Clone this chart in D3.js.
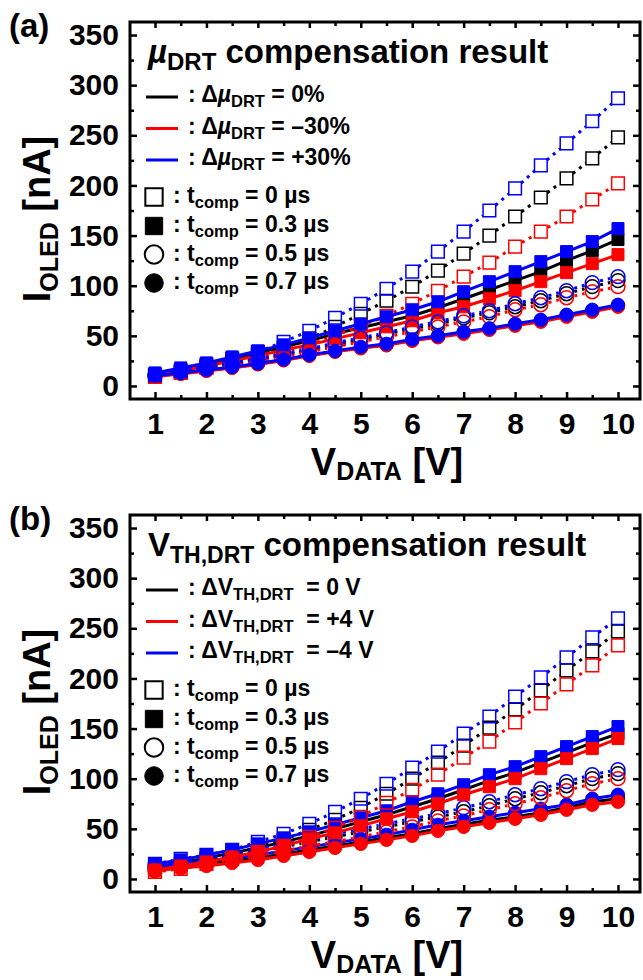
<!DOCTYPE html>
<html>
<head>
<meta charset="utf-8">
<script src="https://cdn.jsdelivr.net/npm/d3@7"></script>
<style>
  body { margin: 0; background: #fff; }
  svg { display: block; font-family: "Liberation Sans", Arial, sans-serif; font-weight: bold; }
  text { white-space: pre; }
</style>
</head>
<body>
<svg width="643" height="980"></svg>
<script>
// V_DATA sweep, one point each 0.5 V
const vData = [1, 1.5, 2, 2.5, 3, 3.5, 4, 4.5, 5, 5.5, 6, 6.5, 7, 7.5, 8, 8.5, 9, 9.5, 10]
const xTicks = [1, 2, 3, 4, 5, 6, 7, 8, 9, 10]
const xMinor = [1.5, 2.5, 3.5, 4.5, 5.5, 6.5, 7.5, 8.5, 9.5]
const yTicks = [0, 50, 100, 150, 200, 250, 300, 350]
const yMinor = [25, 75, 125, 175, 225, 275, 325]

// (a) mobility variation, I_OLED in nA
const muZeroT0   = [10, 14, 19, 25, 31, 38, 47, 59, 72, 85, 99, 115, 132, 150, 169, 188, 207, 227, 248]
const muMinusT0  = [9, 13, 18, 23, 28, 34, 41, 50, 60, 70, 82, 95, 109, 123, 139, 154, 169, 186, 202]
const muPlusT0   = [11, 15, 21, 27, 34, 44, 55, 68, 82, 97, 114, 134, 154, 175, 197, 220, 242, 264, 287]
const muZeroT03  = [12, 17, 22, 27, 33, 39, 45, 52, 58, 64, 70, 78, 87, 96, 105, 114, 125, 135, 146]
const muMinusT03 = [11, 15, 20, 25, 30, 36, 41, 47, 53, 59, 65, 73, 79, 87, 95, 104, 113, 122, 131]
const muPlusT03  = [13, 18, 23, 29, 35, 41, 48, 55, 62, 69, 76, 84, 94, 104, 114, 124, 134, 144, 157]
const muZeroT05  = [10.5, 14, 18, 22, 26, 31, 36, 41, 46, 52, 57, 62, 68, 73, 79, 85, 92, 99, 105]
const muMinusT05 = [10, 13, 17, 21, 25, 29, 34, 39, 44, 49, 54, 59, 64, 69, 76, 81, 88, 94, 99]
const muPlusT05  = [11, 14, 18.5, 23, 27, 32, 37, 43, 48, 53, 59, 64, 70, 75, 82, 88, 95, 103, 109]
const muZeroT07  = [10, 12.5, 15.5, 18.5, 22, 26, 30.5, 34.5, 38, 41, 45.5, 49, 53, 56.5, 61, 65, 70, 75, 80]
const muMinusT07 = [9.5, 12, 15, 18, 21.5, 25.5, 30, 34, 37.5, 40.5, 45, 48.5, 52, 56, 60, 64, 69, 74, 79]
const muPlusT07  = [10.5, 13, 16, 19, 22.5, 26.5, 31, 35, 39, 42, 46.5, 50, 54, 57.5, 62, 66, 71, 76, 81]

// (b) threshold voltage variation, I_OLED in nA
const vthZeroT0   = [11, 15, 20, 24, 32, 39, 49, 59, 71, 85, 100, 116, 133, 151, 169, 188, 208, 227, 247]
const vthPlusT0   = [7, 10, 15, 20, 27, 33, 42, 51, 62, 76, 89, 104, 121, 137, 156, 175, 194, 213, 233]
const vthMinusT0  = [15, 20, 24, 29, 37, 45, 55, 67, 80, 95, 111, 127, 145, 162, 182, 201, 221, 241, 260]
const vthZeroT03  = [12, 16, 21, 26, 31, 37, 43, 50, 57, 64, 72, 80, 89, 98, 106, 116, 126, 136, 145]
const vthPlusT03  = [9, 13, 17, 22, 27, 33, 40, 46, 53, 60, 67, 75, 84, 92, 100, 110, 120, 130, 140]
const vthMinusT03 = [15, 19, 24, 29, 35, 41, 47, 54, 61, 68, 77, 85, 94, 104, 112, 122, 132, 142, 152]
const vthZeroT05  = [11, 14, 18, 22, 27, 32, 37, 42, 47, 52, 57, 62, 67, 73, 80, 86, 93, 100, 105]
const vthPlusT05  = [8, 11, 14, 18, 23, 28, 33, 37, 42, 47, 52, 58, 63, 69, 75, 81, 88, 95, 100]
const vthMinusT05 = [14, 17, 21, 25, 30, 35, 40, 45, 50, 55, 60, 65, 71, 77, 84, 90, 97, 104, 109]
const vthZeroT07  = [10, 12, 15, 18, 21, 25, 29, 33, 37, 41, 45, 50, 54.5, 58.5, 62, 66, 71, 77, 80]
const vthPlusT07  = [8, 11, 13, 16, 19, 23, 27, 31, 35, 39, 43, 48, 52, 56, 60, 64, 69, 74, 77]
const vthMinusT07 = [13, 15, 18, 21, 24, 28, 32, 36, 40, 44, 49, 54, 58, 62, 66, 70, 74, 80, 84]

const colors = { black: '#000000', red: '#ff0000', blue: '#0000ff' }
// t_comp styles: marker shape, filled or open, dotted or solid line
const tStyles = [
  { shape: d3.symbolSquare, filled: false, dotted: true,  label: '0' },
  { shape: d3.symbolSquare, filled: true,  dotted: false, label: '0.3' },
  { shape: d3.symbolCircle, filled: false, dotted: true,  label: '0.5' },
  { shape: d3.symbolCircle, filled: true,  dotted: false, label: '0.7' }
]

const svg = d3.select('svg')
const x = d3.scaleLinear().domain([0.514, 10.428]).range([130, 640])
const y = d3.scaleLinear().domain([-13, 363]).range([399, 22])

// text with subscripts / italics, parts = [{t, sub, it, size, dy}]
function richText(g, px, py, size, parts, anchor) {
  const t = g.append('text')
    .attr('x', px).attr('y', py)
    .attr('font-size', size)
    .attr('text-anchor', anchor || 'start')
  let shift = 0
  parts.forEach(p => {
    const s = t.append('tspan').text(p.t)
    const target = p.sub ? p.dy : 0
    if (target !== shift) s.attr('dy', target - shift)
    shift = target
    if (p.size) s.attr('font-size', p.size)
    if (p.it) s.attr('font-style', 'italic')
  })
  return t
}

function drawAxes(g) {
  const axes = g.append('g').attr('class', 'axes')
  const ticky = sel => {
    sel.select('.domain').remove()
    sel.selectAll('line').attr('stroke', '#000').attr('stroke-width', 2.5)
  }
  axes.append('g').attr('transform', 'translate(0,399)')
    .call(d3.axisBottom(x).tickValues(xTicks).tickSize(-7).tickPadding(14))
    .call(ticky)
    .selectAll('text').attr('font-size', 30).attr('fill', '#000')
  axes.append('g').attr('transform', 'translate(0,399)')
    .call(d3.axisBottom(x).tickValues(xMinor).tickSize(-4).tickFormat(''))
    .call(ticky)
  axes.append('g').attr('transform', 'translate(0,22)')
    .call(d3.axisTop(x).tickValues(xTicks).tickSize(-6).tickFormat(''))
    .call(ticky)
  axes.append('g').attr('transform', 'translate(0,22)')
    .call(d3.axisTop(x).tickValues(xMinor).tickSize(-4).tickFormat(''))
    .call(ticky)
  axes.append('g').attr('transform', 'translate(130,0)')
    .call(d3.axisLeft(y).tickValues(yTicks).tickSize(-7).tickPadding(11))
    .call(ticky)
    .selectAll('text').attr('font-size', 30).attr('fill', '#000')
  axes.append('g').attr('transform', 'translate(130,0)')
    .call(d3.axisLeft(y).tickValues(yMinor).tickSize(-4).tickFormat(''))
    .call(ticky)
  axes.append('g').attr('transform', 'translate(640,0)')
    .call(d3.axisRight(y).tickValues(yTicks).tickSize(-7).tickFormat(''))
    .call(ticky)
  axes.append('g').attr('transform', 'translate(640,0)')
    .call(d3.axisRight(y).tickValues(yMinor).tickSize(-4).tickFormat(''))
    .call(ticky)
  axes.selectAll('text').attr('font-family', null).attr('font-weight', 'bold')

  g.append('rect')
    .attr('x', 130).attr('y', 22)
    .attr('width', 510).attr('height', 377)
    .attr('fill', 'none').attr('stroke', '#000').attr('stroke-width', 3)

  richText(g, 387, 475, 38, [{ t: 'V' }, { t: 'DATA', sub: true, size: 25, dy: 5 }, { t: ' [V]' }], 'middle')
  const yl = g.append('g').attr('transform', 'translate(50,219) rotate(-90)')
  richText(yl, 0, 0, 38, [{ t: 'I' }, { t: 'OLED', sub: true, size: 25, dy: 8 }, { t: ' [nA]' }], 'middle')
}

// dotted connectors leave a gap around each open symbol, one subpath per pair
function gappedPath(values, gap) {
  let d = ''
  for (let i = 0; i < values.length - 1; i++) {
    const x0 = x(vData[i]), y0 = y(values[i])
    const x1 = x(vData[i + 1]), y1 = y(values[i + 1])
    const len = Math.hypot(x1 - x0, y1 - y0)
    if (len <= 2 * gap) continue
    const ux = (x1 - x0) / len, uy = (y1 - y0) / len
    d += 'M' + (x0 + ux * gap) + ',' + (y0 + uy * gap) + 'L' + (x1 - ux * gap) + ',' + (y1 - uy * gap)
  }
  return d
}

function drawSeries(g, list) {
  const line = d3.line().x((d, i) => x(vData[i])).y(d => y(d))
  list.forEach(s => {
    const st = tStyles[s.t]
    const c = colors[s.color]
    g.append('path')
      .datum(s.values)
      .attr('d', st.dotted ? gappedPath(s.values, 8) : line)
      .attr('fill', 'none')
      .attr('stroke', c)
      .attr('stroke-width', 3)
      .attr('stroke-dasharray', st.dotted ? '3,5' : null)
    const area = st.shape === d3.symbolSquare ? (st.filled ? 144 : 160) : (st.filled ? 140 : 150)
    g.selectAll(null)
      .data(s.values)
      .enter()
      .append('path')
        .attr('transform', (d, i) => 'translate(' + x(vData[i]) + ',' + y(d) + ')')
        .attr('d', d3.symbol().type(st.shape).size(area))
        .attr('fill', st.filled ? c : 'none')
        .attr('stroke', c)
        .attr('stroke-width', st.filled ? 1 : 1.5)
  })
}

function drawLegend(g, titleParts, lineEntries) {
  richText(g, 148, 63, 33, titleParts)
  const lineColors = ['black', 'red', 'blue']
  const lineBase = [102, 133.5, 165]
  lineEntries.forEach((parts, i) => {
    g.append('line')
      .attr('x1', 146).attr('x2', 178)
      .attr('y1', lineBase[i] - 5).attr('y2', lineBase[i] - 5)
      .attr('stroke', colors[lineColors[i]]).attr('stroke-width', 3)
    richText(g, 188, lineBase[i], 23, parts)
  })
  const markBase = [203, 232, 260.5, 289]
  tStyles.forEach((st, i) => {
    g.append('path')
      .attr('transform', 'translate(154,' + (markBase[i] - 6) + ')')
      .attr('d', d3.symbol().type(st.shape).size(st.shape === d3.symbolSquare ? 300 : 270))
      .attr('fill', st.filled ? '#000' : 'none')
      .attr('stroke', '#000')
      .attr('stroke-width', st.filled ? 1 : 2)
    richText(g, 173, markBase[i], 23, [
      { t: ': t' }, { t: 'comp', sub: true, size: 16.5, dy: 5 }, { t: ' = ' + st.label + ' µs' }
    ])
  })
}

function drawPanel(offsetY, tag, titleParts, lineEntries, series) {
  const g = svg.append('g').attr('transform', 'translate(0,' + offsetY + ')')
  g.append('text').attr('x', 9).attr('y', 37).attr('font-size', 33).text(tag)
  drawAxes(g)
  drawLegend(g, titleParts, lineEntries)
  drawSeries(g.append('g'), series)
}

const muSub = (sign) => [
  { t: ': Δ' }, { t: 'µ', it: true }, { t: 'DRT', sub: true, size: 16.5, dy: 5 }, { t: ' = ' + sign }
]
const vthSub = (val) => [
  { t: ': ΔV' }, { t: 'TH,DRT', sub: true, size: 16.5, dy: 5 }, { t: '  = ' + val }
]

drawPanel(0, '(a)',
  [{ t: 'µ', it: true }, { t: 'DRT', sub: true, size: 24, dy: 7 }, { t: ' compensation result' }],
  [muSub('0%'), muSub('–30%'), muSub('+30%')],
  [
    { t: 0, color: 'black', values: muZeroT0 }, { t: 1, color: 'black', values: muZeroT03 },
    { t: 2, color: 'black', values: muZeroT05 }, { t: 3, color: 'black', values: muZeroT07 },
    { t: 0, color: 'red', values: muMinusT0 }, { t: 1, color: 'red', values: muMinusT03 },
    { t: 2, color: 'red', values: muMinusT05 }, { t: 3, color: 'red', values: muMinusT07 },
    { t: 0, color: 'blue', values: muPlusT0 }, { t: 1, color: 'blue', values: muPlusT03 },
    { t: 2, color: 'blue', values: muPlusT05 }, { t: 3, color: 'blue', values: muPlusT07 }
  ])

drawPanel(493, '(b)',
  [{ t: 'V' }, { t: 'TH,DRT', sub: true, size: 23, dy: 7 }, { t: ' compensation result' }],
  [vthSub('0 V'), vthSub('+4 V'), vthSub('–4 V')],
  [
    { t: 0, color: 'black', values: vthZeroT0 }, { t: 1, color: 'black', values: vthZeroT03 },
    { t: 2, color: 'black', values: vthZeroT05 }, { t: 3, color: 'black', values: vthZeroT07 },
    { t: 0, color: 'blue', values: vthMinusT0 }, { t: 1, color: 'blue', values: vthMinusT03 },
    { t: 2, color: 'blue', values: vthMinusT05 }, { t: 3, color: 'blue', values: vthMinusT07 },
    { t: 0, color: 'red', values: vthPlusT0 }, { t: 1, color: 'red', values: vthPlusT03 },
    { t: 2, color: 'red', values: vthPlusT05 }, { t: 3, color: 'red', values: vthPlusT07 }
  ])
</script>
</body>
</html>
